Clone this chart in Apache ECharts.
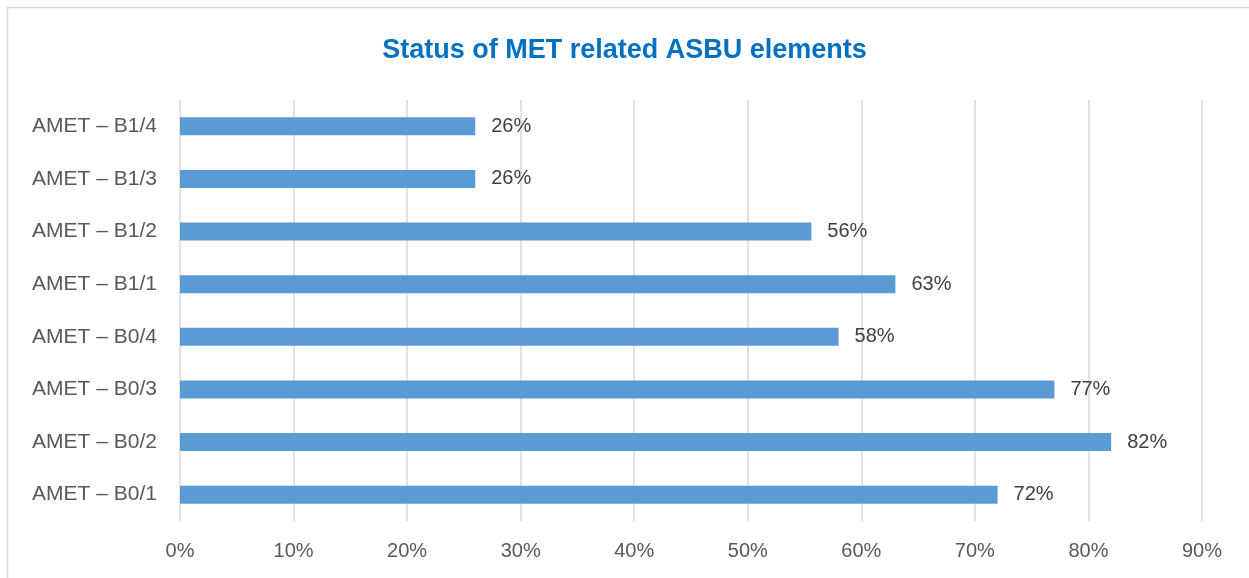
<!DOCTYPE html>
<html>
<head>
<meta charset="utf-8">
<script src="https://cdn.jsdelivr.net/npm/echarts@6/dist/echarts.min.js"></script>
<style>
    html, body { margin: 0; padding: 0; background: #fff; }
    #chart { width: 1249px; height: 578px; }
</style>
</head>
<body>
<div id="chart"></div>
<script>
// bottom to top, as the category axis draws them
const categories = ['AMET – B0/1', 'AMET – B0/2', 'AMET – B0/3', 'AMET – B0/4',
                    'AMET – B1/1', 'AMET – B1/2', 'AMET – B1/3', 'AMET – B1/4']
const values = [72, 82, 77, 58, 63, 55.6, 26, 26]
const xTicks = [0, 10, 20, 30, 40, 50, 60, 70, 80, 90]

const font = 'Liberation Sans, Arial, sans-serif'
let myChart = echarts.init(document.getElementById('chart'))
let option = {
    animation: false,
    title: {
        text: 'Status of MET related ASBU elements',
        left: 'center',
        top: 32,
        textStyle: { color: '#0070C0', fontSize: 27, fontWeight: 'bold', fontFamily: font }
    },
    graphic: [{
        type: 'rect',
        shape: { x: 7.5, y: 7.5, width: 1300, height: 700 },
        style: { fill: 'none', stroke: '#d9d9d9', lineWidth: 1.5 },
        silent: true
    }],
    grid: { left: 180, right: 47, top: 100, bottom: 57 },
    xAxis: {
        type: 'value',
        min: xTicks[0],
        max: xTicks[xTicks.length - 1],
        interval: 10,
        axisLine: { show: false },
        axisTick: { show: false },
        splitLine: { lineStyle: { color: '#d9d9d9', width: 1.5 } },
        axisLabel: {
            formatter: v => v + '%',
            color: '#595959', fontSize: 20, fontFamily: font, margin: 20
        }
    },
    yAxis: {
        type: 'category',
        data: categories,
        axisLine: { show: false },
        axisTick: { show: false },
        axisLabel: { color: '#595959', fontSize: 21, fontFamily: font, margin: 23 }
    },
    series: [{
        type: 'bar',
        data: values,
        barWidth: '34%',
        itemStyle: { color: '#5B9BD5' },
        label: {
            show: true,
            position: 'right',
            distance: 16,
            formatter: p => Math.round(p.value) + '%',
            color: '#404040', fontSize: 20, fontFamily: font
        }
    }]
}
myChart.setOption(option)
</script>
</body>
</html>
